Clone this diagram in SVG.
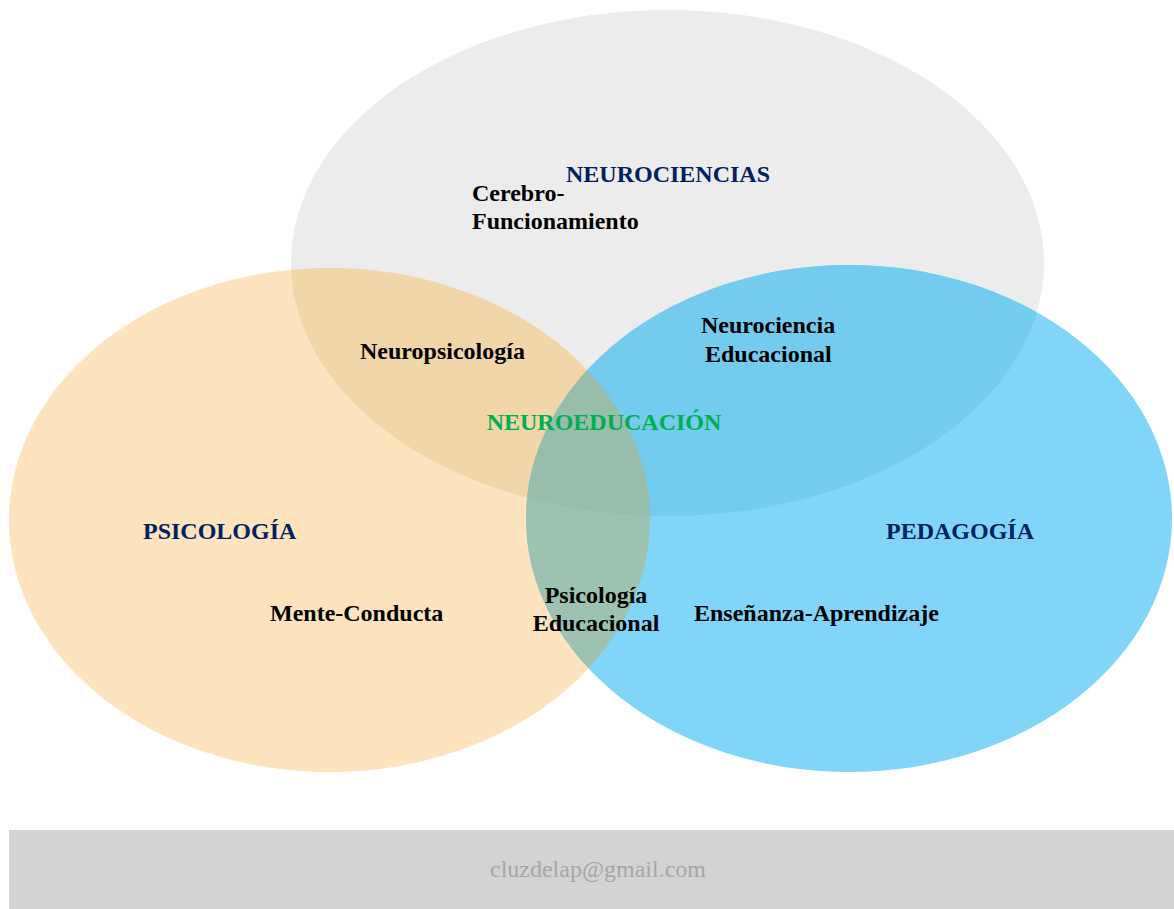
<svg xmlns="http://www.w3.org/2000/svg" width="1174" height="909" viewBox="0 0 1174 909">
<defs>
<style>
.t{font-family:"Liberation Serif","Times New Roman",serif;font-size:24px;font-weight:bold;fill:#000}
.h{fill:#002060}
.g{fill:#00b050}
.mail{font-family:"Liberation Serif","Times New Roman",serif;font-size:24px;fill:#a6a6a6}
</style>
<ellipse id="eG" cx="667.5" cy="263" rx="376.5" ry="253"/>
<ellipse id="eO" cx="329.5" cy="520" rx="320.5" ry="252"/>
<ellipse id="eB" cx="849" cy="518.5" rx="323" ry="253.5"/>
<clipPath id="cG"><use href="#eG"/></clipPath>
<clipPath id="cO"><use href="#eO"/></clipPath>
<clipPath id="cB"><use href="#eB"/></clipPath>
</defs>
<rect width="1174" height="909" fill="#fff"/>
<g id="neurociencias">
<use href="#eG" fill="#ececec"/>
</g>
<g id="psicologia">
<use href="#eO" fill="#fde3be"/>
</g>
<g id="pedagogia">
<use href="#eB" fill="#80d5f8"/>
</g>
<g id="overlaps">
<g clip-path="url(#cG)"><use href="#eO" fill="#f1d6a9"/></g>
<g clip-path="url(#cG)"><use href="#eB" fill="#73cbed"/></g>
<g clip-path="url(#cO)"><use href="#eB" fill="#9dc2b0"/></g>
<g clip-path="url(#cG)"><g clip-path="url(#cO)"><use href="#eB" fill="#99bdab"/></g></g>
</g>
<g id="labels">
<text class="t h" x="668" y="182" text-anchor="middle">NEUROCIENCIAS</text>
<text class="t" x="472" y="201">Cerebro-</text>
<text class="t" x="472" y="229">Funcionamiento</text>
<text class="t" x="360" y="359">Neuropsicología</text>
<text class="t" x="701" y="333">Neurociencia</text>
<text class="t" x="705" y="362">Educacional</text>
<text class="t g" x="604" y="430" text-anchor="middle">NEUROEDUCACIÓN</text>
<text class="t h" x="143" y="539">PSICOLOGÍA</text>
<text class="t h" x="886" y="539">PEDAGOGÍA</text>
<text class="t" x="270" y="621">Mente-Conducta</text>
<text class="t" x="596" y="603" text-anchor="middle">Psicología</text>
<text class="t" x="596" y="631" text-anchor="middle">Educacional</text>
<text class="t" x="694" y="621">Enseñanza-Aprendizaje</text>
</g>
<g id="footer">
<rect x="9" y="830" width="1165" height="79" fill="#d3d3d3"/>
<text class="mail" x="598" y="877" text-anchor="middle">cluzdelap@gmail.com</text>
</g>
</svg>
